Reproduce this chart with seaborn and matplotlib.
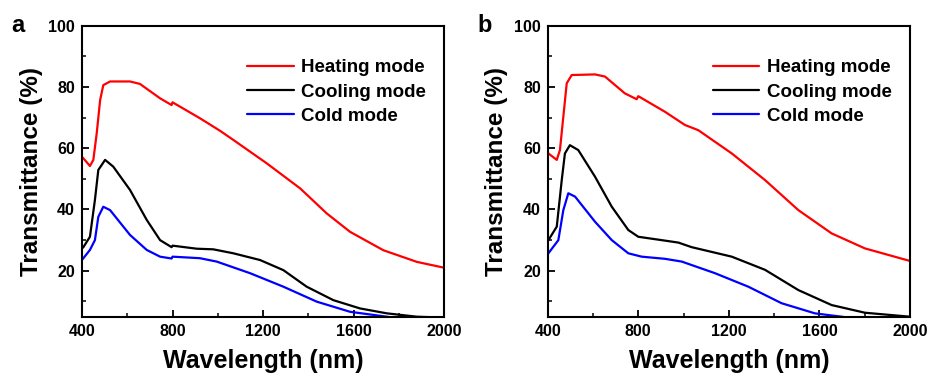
import numpy as np
import pandas as pd
import seaborn as sns
import matplotlib
matplotlib.use("Agg")
import matplotlib.pyplot as plt
from matplotlib.ticker import MultipleLocator

# ---- data ----
a_heat_x = [400, 406, 435, 450, 465, 480, 494, 524, 612, 656, 745, 796, 800, 921, 1010, 1069, 1216, 1364, 1482, 1585, 1732, 1880, 2000]
a_heat_y = [57.2, 56.7, 54.2, 56.2, 64.9, 75.7, 80.6, 81.8, 81.8, 81.0, 76.3, 74.1, 75.0, 69.8, 65.7, 62.7, 55.1, 46.9, 38.7, 32.7, 26.7, 22.9, 21.0]
a_cool_x = [400, 406, 435, 457, 472, 502, 538, 612, 686, 745, 796, 800, 907, 980, 1069, 1187, 1290, 1393, 1511, 1629, 1747, 1880, 2000]
a_cool_y = [27.3, 27.7, 31.1, 43.1, 52.9, 56.2, 54.0, 46.4, 36.6, 30.0, 27.7, 28.2, 27.2, 27.0, 25.7, 23.5, 20.2, 14.8, 10.4, 7.7, 6.1, 5.0, 4.7]
a_cold_x = [400, 406, 435, 457, 472, 494, 524, 612, 686, 745, 796, 800, 921, 995, 1143, 1290, 1438, 1585, 1747, 2000]
a_cold_y = [23.6, 24.1, 26.8, 30.0, 37.6, 40.9, 39.8, 31.7, 26.8, 24.6, 24.0, 24.6, 24.1, 23.0, 19.2, 14.8, 9.9, 6.6, 5.0, 2.5]

b_heat_x = [400, 403, 440, 454, 469, 484, 506, 609, 653, 741, 793, 800, 918, 1006, 1065, 1213, 1360, 1507, 1654, 1801, 2000]
b_heat_y = [58.8, 58.3, 56.2, 59.4, 70.3, 81.2, 83.9, 84.1, 83.4, 77.9, 76.0, 77.0, 71.9, 67.6, 65.9, 58.3, 49.6, 39.8, 32.2, 27.3, 23.2]
b_cool_x = [400, 403, 440, 462, 476, 498, 535, 609, 683, 756, 800, 903, 977, 1036, 1213, 1360, 1507, 1654, 1801, 2000]
b_cool_y = [29.5, 30.0, 34.4, 49.6, 58.3, 61.0, 59.4, 50.7, 40.9, 33.3, 31.1, 30.0, 29.2, 27.7, 24.6, 20.3, 13.7, 8.8, 6.3, 5.0]
b_cold_x = [400, 403, 447, 469, 491, 521, 609, 683, 756, 815, 918, 992, 1139, 1286, 1433, 1580, 1698, 2000]
b_cold_y = [25.2, 25.7, 30.0, 39.8, 45.3, 44.2, 36.0, 30.0, 25.7, 24.6, 23.9, 23.0, 19.2, 14.8, 9.4, 6.1, 5.0, 2.0]

series_names = ["Heating mode", "Cooling mode", "Cold mode"]
series_colors = ["#ff0000", "#000000", "#0000ff"]
panel_labels = ["a", "b"]
x_ticks = [400, 800, 1200, 1600, 2000]
y_ticks = [20, 40, 60, 80, 100]

sns.set_theme(style="white")
plt.rcParams["font.family"] = ["Liberation Sans", "DejaVu Sans"]
plt.rcParams["text.color"] = "black"
plt.rcParams["axes.labelcolor"] = "black"
plt.rcParams["xtick.color"] = "black"
plt.rcParams["ytick.color"] = "black"

fig = plt.figure(figsize=(9.31, 3.76), dpi=100)
ax_a = fig.add_axes([0.0881, 0.1577, 0.4769 - 0.0881, 0.9316 - 0.1577])
ax_b = fig.add_axes([0.5883, 0.1577, 0.9774 - 0.5883, 0.9316 - 0.1577])

panels = [
    (ax_a, [(a_heat_x, a_heat_y), (a_cool_x, a_cool_y), (a_cold_x, a_cold_y)]),
    (ax_b, [(b_heat_x, b_heat_y), (b_cool_x, b_cool_y), (b_cold_x, b_cold_y)]),
]

for (ax, data), lab in zip(panels, panel_labels):
    frames = []
    for name, (xs, ys) in zip(series_names, data):
        frames.append(pd.DataFrame({"Wavelength": xs, "T": ys, "mode": name}))
    df = pd.concat(frames, ignore_index=True)
    sns.lineplot(data=df, x="Wavelength", y="T", hue="mode", palette=series_colors,
                 hue_order=series_names, ax=ax, linewidth=1.6, sort=False,
                 estimator=None)
    for ln in ax.get_lines():
        ln.set_solid_joinstyle("round")
    ax.set_xlim(400, 2000)
    ax.set_ylim(5, 100)
    ax.set_xticks(x_ticks)
    ax.set_yticks(y_ticks)
    ax.xaxis.set_minor_locator(MultipleLocator(200))
    ax.yaxis.set_minor_locator(MultipleLocator(10))
    ax.tick_params(which="major", direction="in", length=5, width=1.3, bottom=True, left=True,
                   labelsize=11.5, pad=5)
    ax.tick_params(which="minor", direction="in", length=3, width=1.1, bottom=True, left=True)
    for t in ax.get_xticklabels() + ax.get_yticklabels():
        t.set_fontweight("bold")
    for s in ax.spines.values():
        s.set_linewidth(1.5)
        s.set_color("black")
    ax.set_xlabel("Wavelength (nm)", fontsize=18, fontweight="bold", labelpad=7.5)
    ax.set_ylabel("Transmittance (%)", fontsize=17.5, fontweight="bold", labelpad=4)
    leg = ax.legend(loc="upper left", bbox_to_anchor=(0.455, 0.885), frameon=False,
                    prop={"size": 13.5, "weight": "bold"}, handlelength=2.5,
                    handletextpad=0.4, labelspacing=0.38, borderpad=0, borderaxespad=0)
    for ln in leg.get_lines():
        ln.set_linewidth(1.6)
    ax.text(-0.195, 1.0, lab, transform=ax.transAxes, fontsize=17, fontweight="bold",
            va="center", ha="left")

fig.savefig("out.png", dpi=100)
